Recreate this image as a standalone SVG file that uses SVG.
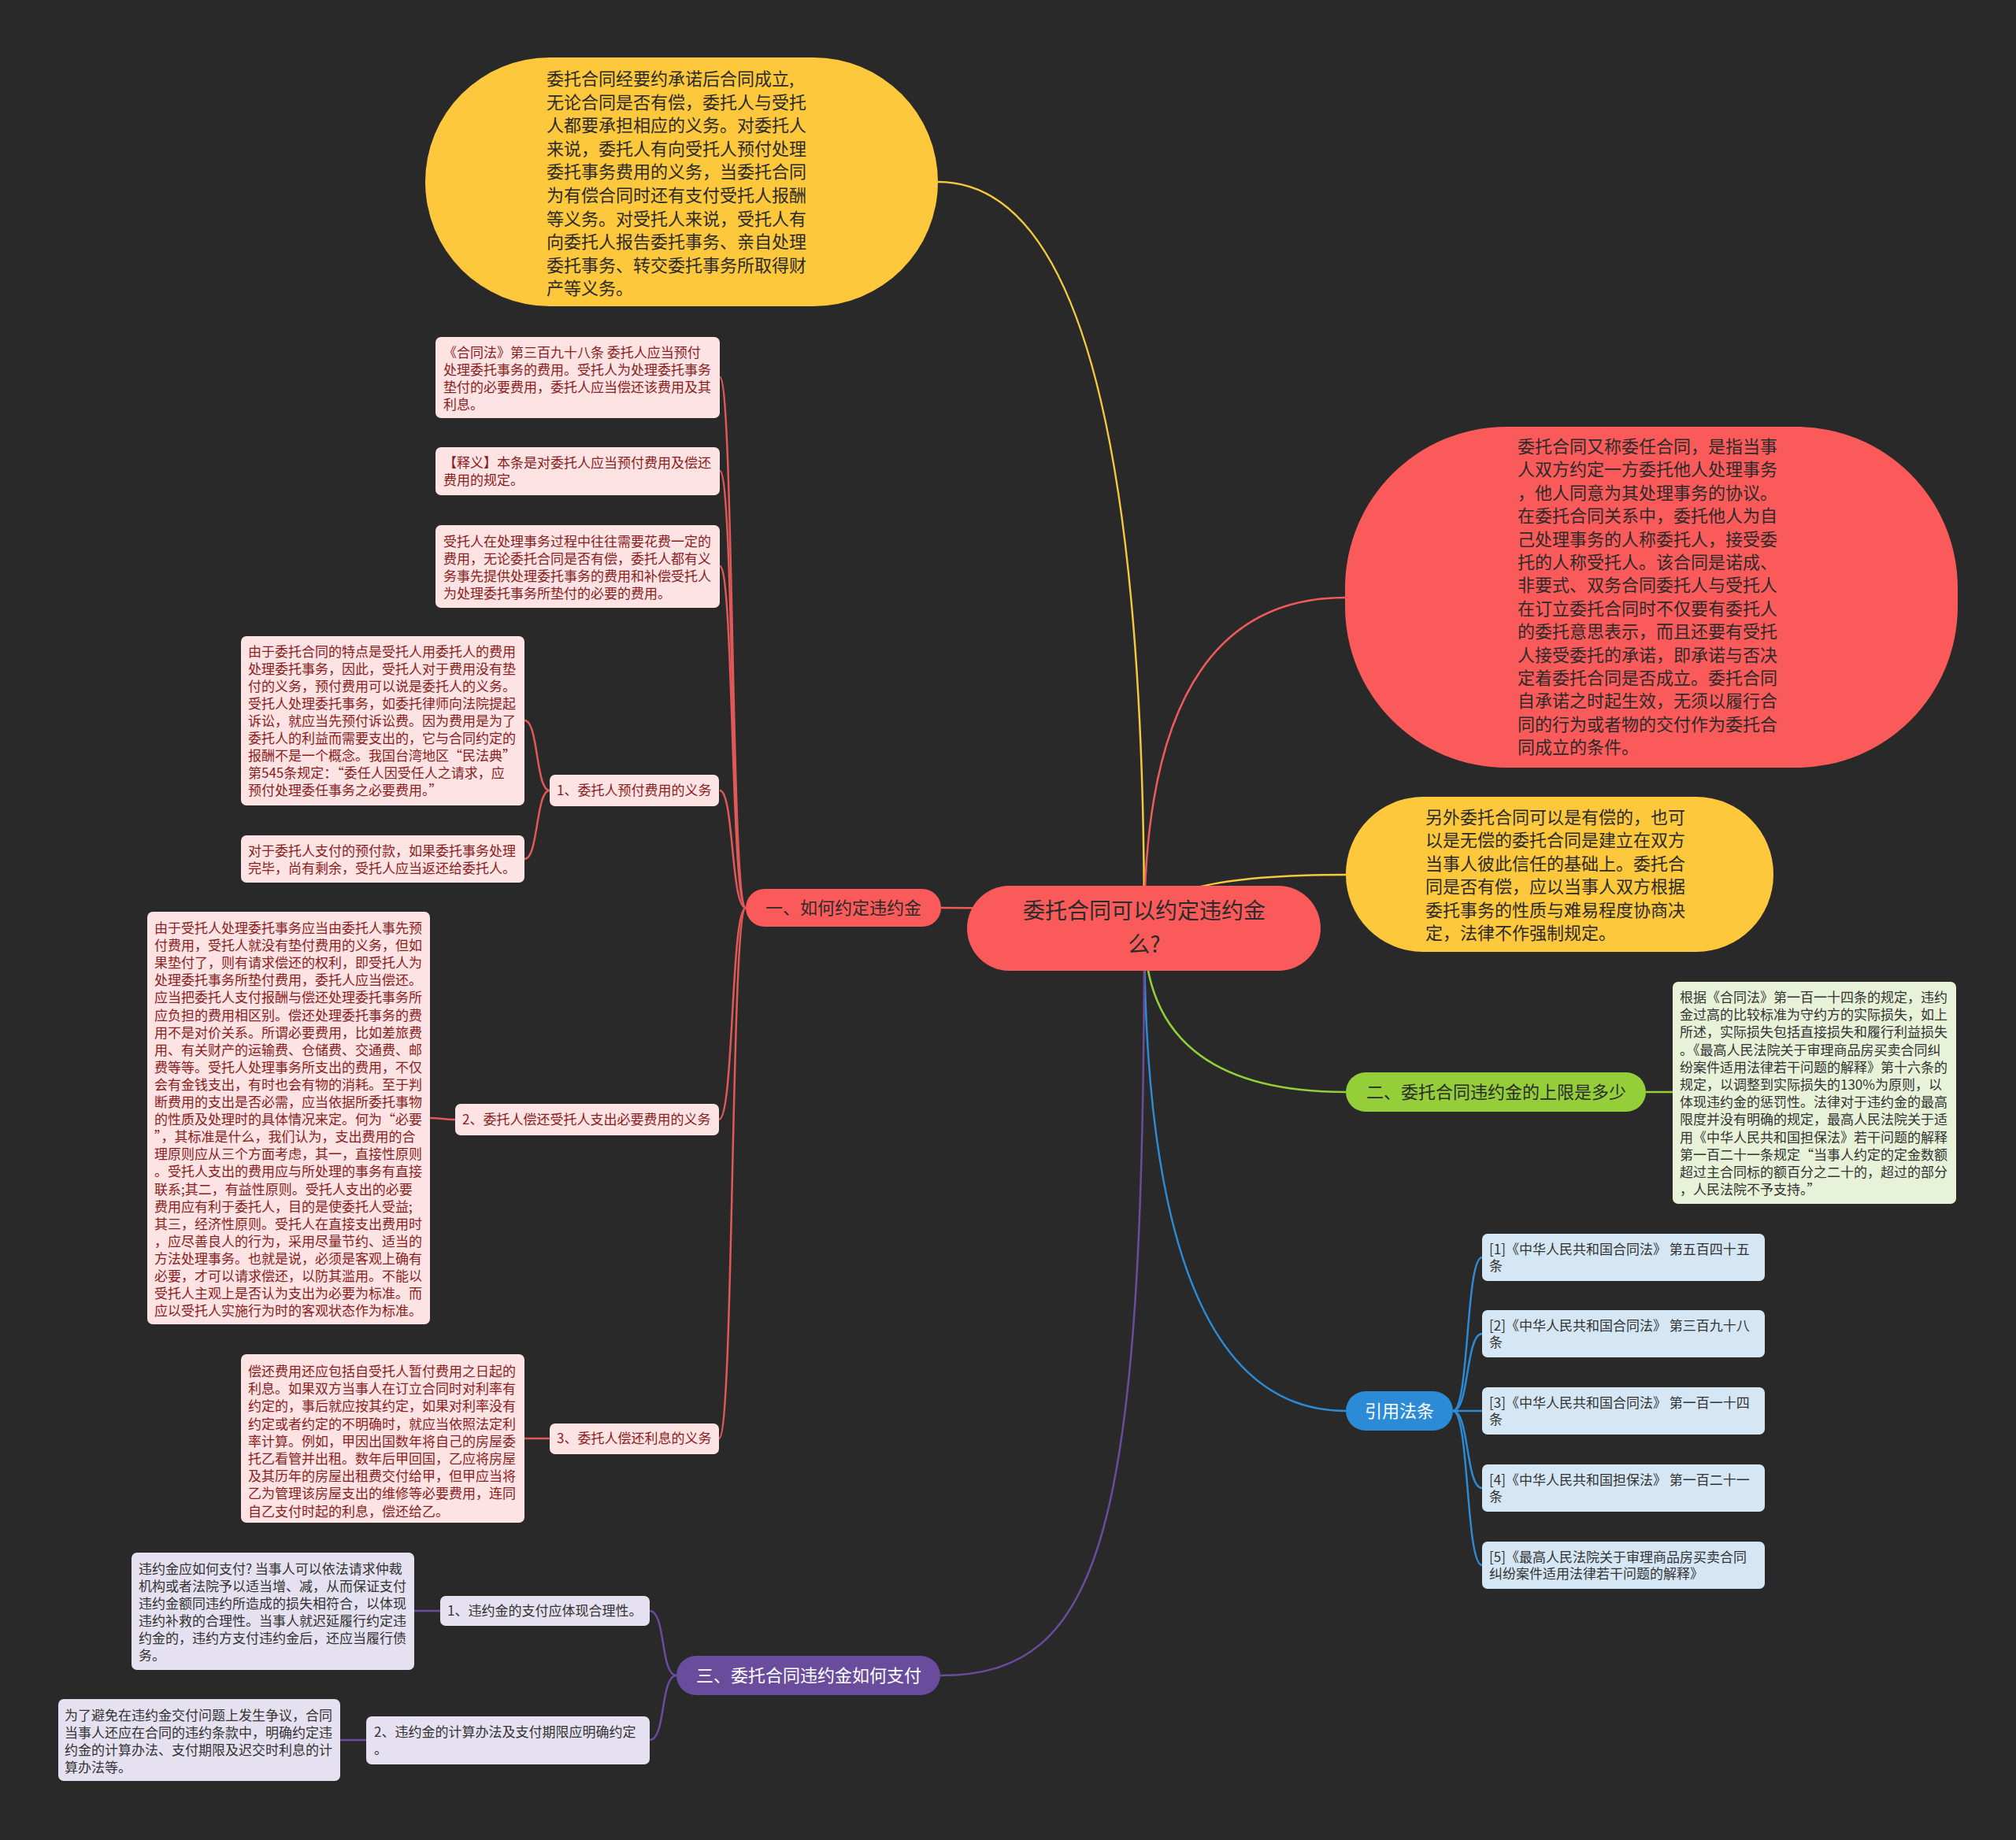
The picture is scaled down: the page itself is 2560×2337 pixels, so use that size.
<svg xmlns="http://www.w3.org/2000/svg" width="2560" height="2337" viewBox="0 0 2560 2337">
<style>
text{font-family:"Noto Sans CJK SC","Liberation Sans",sans-serif;}
.t22{font-size:22px;fill:#2b2b2b;}
.t17{font-size:17px;fill:#333333;}
.tr{font-size:17px;fill:#8a1d1d;}
.c{stroke-width:2.5;fill:none;}
.pink{fill:#fde3e3;}
.lav{fill:#e6e1f0;}
.grn{fill:#e8f2d9;}
.blu{fill:#d5e6f4;}
</style>
<rect x="0" y="0" width="2560" height="2337" fill="#292929"/>
<g id="connectors">
  <path class="c" stroke="#f5c93e" d="M1453,1179 Q1453,231 1191,231"/>
  <path class="c" stroke="#f05a5a" d="M1453,1179 Q1453,759 1708,759"/>
  <path class="c" stroke="#f5c93e" d="M1453,1179 Q1453,1111 1709,1111"/>
  <path class="c" stroke="#94cf3a" d="M1453,1179 Q1453,1387 1709,1387"/>
  <path class="c" stroke="#2b8bd6" d="M1453,1179 Q1453,1792 1709,1792"/>
  <path class="c" stroke="#6a4c9c" d="M1453,1179 C1453,1950 1400,2128 1194,2128"/>
  <path class="c" stroke="#f05a5a" d="M1453,1179 Q1453,1153 1195,1153"/>
  <g stroke="#e05858" class="c">
    <path d="M947,1153 C928,1153 932,479 914,479"/>
    <path d="M947,1153 C928,1153 932,598 914,598"/>
    <path d="M947,1153 C928,1153 932,719 914,719"/>
    <path d="M947,1153 C928,1153 932,1004 914,1004"/>
    <path d="M947,1153 C928,1153 932,1422 913,1422"/>
    <path d="M947,1153 C928,1153 932,1827 913,1827"/>
    <path d="M698,1004 C680,1004 684,915 666,915"/>
    <path d="M698,1004 C680,1004 684,1091 666,1091"/>
    <path d="M578,1422 C562,1422 562,1420 546,1420"/>
    <path d="M698,1827 L666,1827"/>
  </g>
  <g stroke="#6a4c9c" class="c">
    <path d="M859,2128 C838,2128 846,2046 825,2046"/>
    <path d="M859,2128 C838,2128 846,2210 825,2210"/>
    <path d="M559,2046 L526,2046"/>
    <path d="M465,2210 L432,2210"/>
  </g>
  <path class="c" stroke="#94cf3a" d="M2090,1387 L2124,1387"/>
  <g stroke="#2b8bd6" class="c">
    <path d="M1845,1792 C1866,1792 1861,1597 1882,1597"/>
    <path d="M1845,1792 C1866,1792 1861,1694 1882,1694"/>
    <path d="M1845,1792 L1882,1792"/>
    <path d="M1845,1792 C1866,1792 1861,1890 1882,1890"/>
    <path d="M1845,1792 C1866,1792 1861,1988 1882,1988"/>
  </g>
</g>
<g id="n-top-yellow">
  <rect x="540" y="73" width="651" height="316" rx="158" fill="#fdc83b"/>
  <text class="t22"><tspan x="694" y="108">委托合同经要约承诺后合同成立,</tspan><tspan x="694" y="137.6">无论合同是否有偿，委托人与受托</tspan><tspan x="694" y="167.2">人都要承担相应的义务。对委托人</tspan><tspan x="694" y="196.8">来说，委托人有向受托人预付处理</tspan><tspan x="694" y="226.4">委托事务费用的义务，当委托合同</tspan><tspan x="694" y="256">为有偿合同时还有支付受托人报酬</tspan><tspan x="694" y="285.6">等义务。对受托人来说，受托人有</tspan><tspan x="694" y="315.2">向委托人报告委托事务、亲自处理</tspan><tspan x="694" y="344.8">委托事务、转交委托事务所取得财</tspan><tspan x="694" y="374.4">产等义务。</tspan></text>
</g>
<g id="n-right-red">
  <rect x="1708" y="542" width="778" height="433" rx="205" fill="#fa5a5a"/>
  <text class="t22"><tspan x="1927" y="575">委托合同又称委任合同，是指当事</tspan><tspan x="1927" y="604.4">人双方约定一方委托他人处理事务</tspan><tspan x="1927" y="633.8">，他人同意为其处理事务的协议。</tspan><tspan x="1927" y="663.2">在委托合同关系中，委托他人为自</tspan><tspan x="1927" y="692.6">己处理事务的人称委托人，接受委</tspan><tspan x="1927" y="722">托的人称受托人。该合同是诺成、</tspan><tspan x="1927" y="751.4">非要式、双务合同委托人与受托人</tspan><tspan x="1927" y="780.8">在订立委托合同时不仅要有委托人</tspan><tspan x="1927" y="810.2">的委托意思表示，而且还要有受托</tspan><tspan x="1927" y="839.6">人接受委托的承诺，即承诺与否决</tspan><tspan x="1927" y="869">定着委托合同是否成立。委托合同</tspan><tspan x="1927" y="898.4">自承诺之时起生效，无须以履行合</tspan><tspan x="1927" y="927.8">同的行为或者物的交付作为委托合</tspan><tspan x="1927" y="957.2">同成立的条件。</tspan></text>
</g>
<g id="n-right-yellow">
  <rect x="1709" y="1012" width="543" height="197" rx="98" fill="#fdc83b"/>
  <text class="t22"><tspan x="1810" y="1046">另外委托合同可以是有偿的，也可</tspan><tspan x="1810" y="1075.4">以是无偿的委托合同是建立在双方</tspan><tspan x="1810" y="1104.8">当事人彼此信任的基础上。委托合</tspan><tspan x="1810" y="1134.2">同是否有偿，应以当事人双方根据</tspan><tspan x="1810" y="1163.6">委托事务的性质与难易程度协商决</tspan><tspan x="1810" y="1193">定，法律不作强制规定。</tspan></text>
</g>
<g id="n-center">
  <rect x="1228" y="1125" width="449" height="108" rx="54" fill="#fa5a5a"/>
  <text style="font-size:28px;fill:#2b2b2b" text-anchor="middle"><tspan x="1453" y="1167">委托合同可以约定违约金</tspan><tspan x="1453" y="1210">么?</tspan></text>
</g>
<g id="n-b1">
  <rect x="947" y="1129" width="248" height="48" rx="24" fill="#fa5a5a"/>
  <text class="t22" x="1071" y="1161" text-anchor="middle">一、如何约定违约金</text>
</g>
<g id="n-b2">
  <rect x="1709" y="1362" width="381" height="50" rx="25" fill="#94cf3a"/>
  <text class="t22" x="1900" y="1395" text-anchor="middle">二、委托合同违约金的上限是多少</text>
</g>
<g id="n-b3">
  <rect x="1709" y="1767" width="136" height="50" rx="25" fill="#2b8bd6"/>
  <text class="t22" style="fill:#ffffff" x="1777" y="1800" text-anchor="middle">引用法条</text>
</g>
<g id="n-b4">
  <rect x="859" y="2103" width="335" height="50" rx="25" fill="#6a4c9c"/>
  <text class="t22" style="fill:#ffffff" x="1027" y="2136" text-anchor="middle">三、委托合同违约金如何支付</text>
</g>
<g id="n-a1">
  <rect class="pink" x="553" y="428" width="361" height="103" rx="7"/>
  <text class="tr"><tspan x="563" y="454">《合同法》第三百九十八条 委托人应当预付</tspan><tspan x="563" y="476">处理委托事务的费用。受托人为处理委托事务</tspan><tspan x="563" y="498">垫付的必要费用，委托人应当偿还该费用及其</tspan><tspan x="563" y="520">利息。</tspan></text>
</g>
<g id="n-a2">
  <rect class="pink" x="553" y="568" width="361" height="61" rx="7"/>
  <text class="tr"><tspan x="563" y="594">【释义】本条是对委托人应当预付费用及偿还</tspan><tspan x="563" y="616">费用的规定。</tspan></text>
</g>
<g id="n-a3">
  <rect class="pink" x="553" y="667" width="361" height="105" rx="7"/>
  <text class="tr"><tspan x="563" y="694">受托人在处理事务过程中往往需要花费一定的</tspan><tspan x="563" y="716">费用，无论委托合同是否有偿，委托人都有义</tspan><tspan x="563" y="738">务事先提供处理委托事务的费用和补偿受托人</tspan><tspan x="563" y="760">为处理委托事务所垫付的必要的费用。</tspan></text>
</g>
<g id="n-s1">
  <rect class="pink" x="698" y="984" width="215" height="40" rx="7"/>
  <text class="tr" x="707" y="1010">1、委托人预付费用的义务</text>
</g>
<g id="n-s1a">
  <rect class="pink" x="306" y="808" width="360" height="215" rx="7"/>
  <text class="tr"><tspan x="315" y="834">由于委托合同的特点是受托人用委托人的费用</tspan><tspan x="315" y="856">处理委托事务，因此，受托人对于费用没有垫</tspan><tspan x="315" y="878">付的义务，预付费用可以说是委托人的义务。</tspan><tspan x="315" y="900">受托人处理委托事务，如委托律师向法院提起</tspan><tspan x="315" y="922">诉讼，就应当先预付诉讼费。因为费用是为了</tspan><tspan x="315" y="944">委托人的利益而需要支出的，它与合同约定的</tspan><tspan x="315" y="966">报酬不是一个概念。我国台湾地区“民法典”</tspan><tspan x="315" y="988">第545条规定：“委任人因受任人之请求，应</tspan><tspan x="315" y="1010">预付处理委任事务之必要费用。”</tspan></text>
</g>
<g id="n-s1b">
  <rect class="pink" x="306" y="1061" width="360" height="60" rx="7"/>
  <text class="tr"><tspan x="315" y="1087">对于委托人支付的预付款，如果委托事务处理</tspan><tspan x="315" y="1109">完毕，尚有剩余，受托人应当返还给委托人。</tspan></text>
</g>
<g id="n-s2">
  <rect class="pink" x="578" y="1402" width="335" height="40" rx="7"/>
  <text class="tr" x="587" y="1428">2、委托人偿还受托人支出必要费用的义务</text>
</g>
<g id="n-s2a">
  <rect class="pink" x="187" y="1158" width="359" height="524" rx="7"/>
  <text class="tr"><tspan x="196" y="1185">由于受托人处理委托事务应当由委托人事先预</tspan><tspan x="196" y="1207.1">付费用，受托人就没有垫付费用的义务，但如</tspan><tspan x="196" y="1229.2">果垫付了，则有请求偿还的权利，即受托人为</tspan><tspan x="196" y="1251.3">处理委托事务所垫付费用，委托人应当偿还。</tspan><tspan x="196" y="1273.4">应当把委托人支付报酬与偿还处理委托事务所</tspan><tspan x="196" y="1295.5">应负担的费用相区别。偿还处理委托事务的费</tspan><tspan x="196" y="1317.6">用不是对价关系。所谓必要费用，比如差旅费</tspan><tspan x="196" y="1339.7">用、有关财产的运输费、仓储费、交通费、邮</tspan><tspan x="196" y="1361.8">费等等。受托人处理事务所支出的费用，不仅</tspan><tspan x="196" y="1383.9">会有金钱支出，有时也会有物的消耗。至于判</tspan><tspan x="196" y="1406">断费用的支出是否必需，应当依据所委托事物</tspan><tspan x="196" y="1428.1">的性质及处理时的具体情况来定。何为“必要</tspan><tspan x="196" y="1450.2">”，其标准是什么，我们认为，支出费用的合</tspan><tspan x="196" y="1472.3">理原则应从三个方面考虑，其一，直接性原则</tspan><tspan x="196" y="1494.4">。受托人支出的费用应与所处理的事务有直接</tspan><tspan x="196" y="1516.5">联系;其二，有益性原则。受托人支出的必要</tspan><tspan x="196" y="1538.6">费用应有利于委托人，目的是使委托人受益;</tspan><tspan x="196" y="1560.7">其三，经济性原则。受托人在直接支出费用时</tspan><tspan x="196" y="1582.8">，应尽善良人的行为，采用尽量节约、适当的</tspan><tspan x="196" y="1604.9">方法处理事务。也就是说，必须是客观上确有</tspan><tspan x="196" y="1627">必要，才可以请求偿还，以防其滥用。不能以</tspan><tspan x="196" y="1649.1">受托人主观上是否认为支出为必要为标准。而</tspan><tspan x="196" y="1671.2">应以受托人实施行为时的客观状态作为标准。</tspan></text>
</g>
<g id="n-s3">
  <rect class="pink" x="698" y="1808" width="215" height="39" rx="7"/>
  <text class="tr" x="707" y="1833">3、委托人偿还利息的义务</text>
</g>
<g id="n-s3a">
  <rect class="pink" x="306" y="1720" width="360" height="214" rx="7"/>
  <text class="tr"><tspan x="315" y="1748">偿还费用还应包括自受托人暂付费用之日起的</tspan><tspan x="315" y="1770.2">利息。如果双方当事人在订立合同时对利率有</tspan><tspan x="315" y="1792.4">约定的，事后就应按其约定，如果对利率没有</tspan><tspan x="315" y="1814.6">约定或者约定的不明确时，就应当依照法定利</tspan><tspan x="315" y="1836.8">率计算。例如，甲因出国数年将自己的房屋委</tspan><tspan x="315" y="1859">托乙看管并出租。数年后甲回国，乙应将房屋</tspan><tspan x="315" y="1881.2">及其历年的房屋出租费交付给甲，但甲应当将</tspan><tspan x="315" y="1903.4">乙为管理该房屋支出的维修等必要费用，连同</tspan><tspan x="315" y="1925.6">自乙支付时起的利息，偿还给乙。</tspan></text>
</g>
<g id="n-g1">
  <rect class="grn" x="2124" y="1247" width="360" height="282" rx="7"/>
  <text class="t17"><tspan x="2133" y="1273">根据《合同法》第一百一十四条的规定，违约</tspan><tspan x="2133" y="1295.2">金过高的比较标准为守约方的实际损失，如上</tspan><tspan x="2133" y="1317.4">所述，实际损失包括直接损失和履行利益损失</tspan><tspan x="2133" y="1339.6">。《最高人民法院关于审理商品房买卖合同纠</tspan><tspan x="2133" y="1361.8">纷案件适用法律若干问题的解释》第十六条的</tspan><tspan x="2133" y="1384">规定，以调整到实际损失的130%为原则，以</tspan><tspan x="2133" y="1406.2">体现违约金的惩罚性。法律对于违约金的最高</tspan><tspan x="2133" y="1428.4">限度并没有明确的规定，最高人民法院关于适</tspan><tspan x="2133" y="1450.6">用《中华人民共和国担保法》若干问题的解释</tspan><tspan x="2133" y="1472.8">第一百二十一条规定“当事人约定的定金数额</tspan><tspan x="2133" y="1495">超过主合同标的额百分之二十的，超过的部分</tspan><tspan x="2133" y="1517.2">，人民法院不予支持。”</tspan></text>
</g>
<g id="n-r1">
  <rect class="blu" x="1882" y="1567" width="359" height="60" rx="7"/>
  <text class="t17"><tspan x="1891" y="1593">[1]《中华人民共和国合同法》 第五百四十五</tspan><tspan x="1891" y="1614">条</tspan></text>
</g>
<g id="n-r2">
  <rect class="blu" x="1882" y="1664" width="359" height="60" rx="7"/>
  <text class="t17"><tspan x="1891" y="1690">[2]《中华人民共和国合同法》 第三百九十八</tspan><tspan x="1891" y="1711">条</tspan></text>
</g>
<g id="n-r3">
  <rect class="blu" x="1882" y="1762" width="359" height="60" rx="7"/>
  <text class="t17"><tspan x="1891" y="1788">[3]《中华人民共和国合同法》 第一百一十四</tspan><tspan x="1891" y="1809">条</tspan></text>
</g>
<g id="n-r4">
  <rect class="blu" x="1882" y="1860" width="359" height="60" rx="7"/>
  <text class="t17"><tspan x="1891" y="1886">[4]《中华人民共和国担保法》 第一百二十一</tspan><tspan x="1891" y="1907">条</tspan></text>
</g>
<g id="n-r5">
  <rect class="blu" x="1882" y="1958" width="359" height="60" rx="7"/>
  <text class="t17"><tspan x="1891" y="1984">[5]《最高人民法院关于审理商品房买卖合同</tspan><tspan x="1891" y="2005">纠纷案件适用法律若干问题的解释》</tspan></text>
</g>
<g id="n-p1">
  <rect class="lav" x="559" y="2027" width="266" height="38" rx="7"/>
  <text class="t17" x="568" y="2052">1、违约金的支付应体现合理性。</text>
</g>
<g id="n-p1a">
  <rect class="lav" x="167" y="1972" width="359" height="149" rx="7"/>
  <text class="t17"><tspan x="176" y="1999">违约金应如何支付? 当事人可以依法请求仲裁</tspan><tspan x="176" y="2021">机构或者法院予以适当增、减，从而保证支付</tspan><tspan x="176" y="2043">违约金额同违约所造成的损失相符合，以体现</tspan><tspan x="176" y="2065">违约补救的合理性。当事人就迟延履行约定违</tspan><tspan x="176" y="2087">约金的，违约方支付违约金后，还应当履行债</tspan><tspan x="176" y="2109">务。</tspan></text>
</g>
<g id="n-p2">
  <rect class="lav" x="465" y="2180" width="360" height="61" rx="7"/>
  <text class="t17"><tspan x="475" y="2206">2、违约金的计算办法及支付期限应明确约定</tspan><tspan x="475" y="2228">。</tspan></text>
</g>
<g id="n-p2a">
  <rect class="lav" x="74" y="2158" width="358" height="104" rx="7"/>
  <text class="t17"><tspan x="82" y="2185">为了避免在违约金交付问题上发生争议，合同</tspan><tspan x="82" y="2207">当事人还应在合同的违约条款中，明确约定违</tspan><tspan x="82" y="2229">约金的计算办法、支付期限及迟交时利息的计</tspan><tspan x="82" y="2251">算办法等。</tspan></text>
</g>
</svg>
